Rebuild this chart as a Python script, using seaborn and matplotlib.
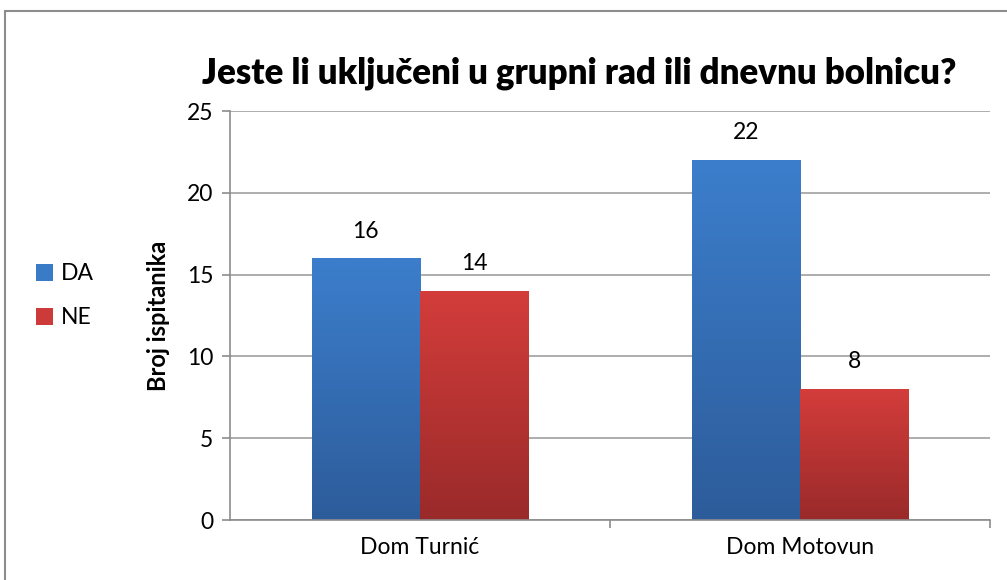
import matplotlib
matplotlib.use("Agg")
import matplotlib.pyplot as plt
import seaborn as sns
import pandas as pd
import numpy as np
from matplotlib.colors import LinearSegmentedColormap
from matplotlib.patches import Rectangle

# podaci
domovi = ["Dom Turnić", "Dom Motovun"]
odgovori = ["DA", "NE"]
da_vrijednosti = [16, 22]
ne_vrijednosti = [14, 8]

df = pd.DataFrame({
    "dom": domovi * 2,
    "odgovor": ["DA"] * len(domovi) + ["NE"] * len(domovi),
    "broj": da_vrijednosti + ne_vrijednosti,
})

boje = {"DA": "#3A7BC8", "NE": "#CC3B39"}
gradijenti = {
    "DA": ("#3C7ECC", "#2D5C9A"),
    "NE": ("#D33D3B", "#9A2A2A"),
}

sns.set_style("white")
plt.rcParams["font.family"] = ["Lato", "DejaVu Sans"]
plt.rcParams["text.color"] = "black"
plt.rcParams["axes.labelcolor"] = "black"
plt.rcParams["xtick.labelcolor"] = "black"
plt.rcParams["ytick.labelcolor"] = "black"

fig = plt.figure(figsize=(10.07, 5.8), dpi=100)
ax = fig.add_axes([0.2284, 0.1034, 0.7546, 0.7052])

sns.barplot(
    data=df,
    x="dom",
    y="broj",
    hue="odgovor",
    palette=boje,
    width=0.57,
    gap=0,
    errorbar=None,
    ax=ax,
    legend=False,
)

# gradijent na stupcima (kao u Excelu)
for cont, odg in zip(ax.containers, odgovori):
    cmap = LinearSegmentedColormap.from_list(odg, [gradijenti[odg][1], gradijenti[odg][0]])
    for bar in cont:
        x0, y0 = bar.get_x(), bar.get_y()
        w, h = bar.get_width(), bar.get_height()
        grad = np.linspace(0, 1, 256).reshape(-1, 1)
        im = ax.imshow(grad, extent=[x0, x0 + w, y0, y0 + h], origin="lower",
                       aspect="auto", cmap=cmap, zorder=bar.get_zorder())
        im.set_clip_path(bar)
        bar.set_edgecolor("none")
    ax.bar_label(cont, padding=12, fontsize=16.5, color="black")

ax.set_xlim(-0.5, 1.5)
ax.set_ylim(0, 25)
ax.set_yticks(range(0, 26, 5))
ax.yaxis.grid(True, color="#A0A0A0", linewidth=1.2)
ax.set_axisbelow(True)

ax.set_xlabel("")
ax.set_ylabel("Broj ispitanika", fontsize=17, fontweight="bold", labelpad=12)
ax.set_title("Jeste li uključeni u grupni rad ili dnevnu bolnicu?",
             fontsize=25, fontweight="heavy", pad=20, x=0.46, color="black")

for s in ["top", "right"]:
    ax.spines[s].set_visible(False)
for s in ["left", "bottom"]:
    ax.spines[s].set_color("#8C8C8C")
    ax.spines[s].set_linewidth(1.2)

ax.tick_params(axis="y", labelsize=16.5, length=6, color="#8C8C8C", width=1.2, pad=6, left=True)
ax.tick_params(axis="x", which="major", labelsize=16.5, length=0, pad=12)
ax.set_xticks([0.5, 1.5], minor=True)
ax.tick_params(axis="x", which="minor", length=6, color="#8C8C8C", width=1.2, bottom=True)

# legenda lijevo
rukovatelji = [Rectangle((0, 0), 1, 1, facecolor=boje[o], edgecolor="none") for o in odgovori]
fig.legend(rukovatelji, odgovori, loc="center left", bbox_to_anchor=(0.015, 0.49),
           frameon=False, fontsize=16.5, handlelength=0.75, handleheight=0.75,
           handletextpad=0.35, labelspacing=1.0)

# okvir grafikona
fig.patches.append(Rectangle((5 / 1007, -0.05), 1.1, (580 - 11) / 580 + 0.05,
                             transform=fig.transFigure, fill=False,
                             edgecolor="#8C8C8C", linewidth=1.5))

fig.savefig("out.png", dpi=100)
